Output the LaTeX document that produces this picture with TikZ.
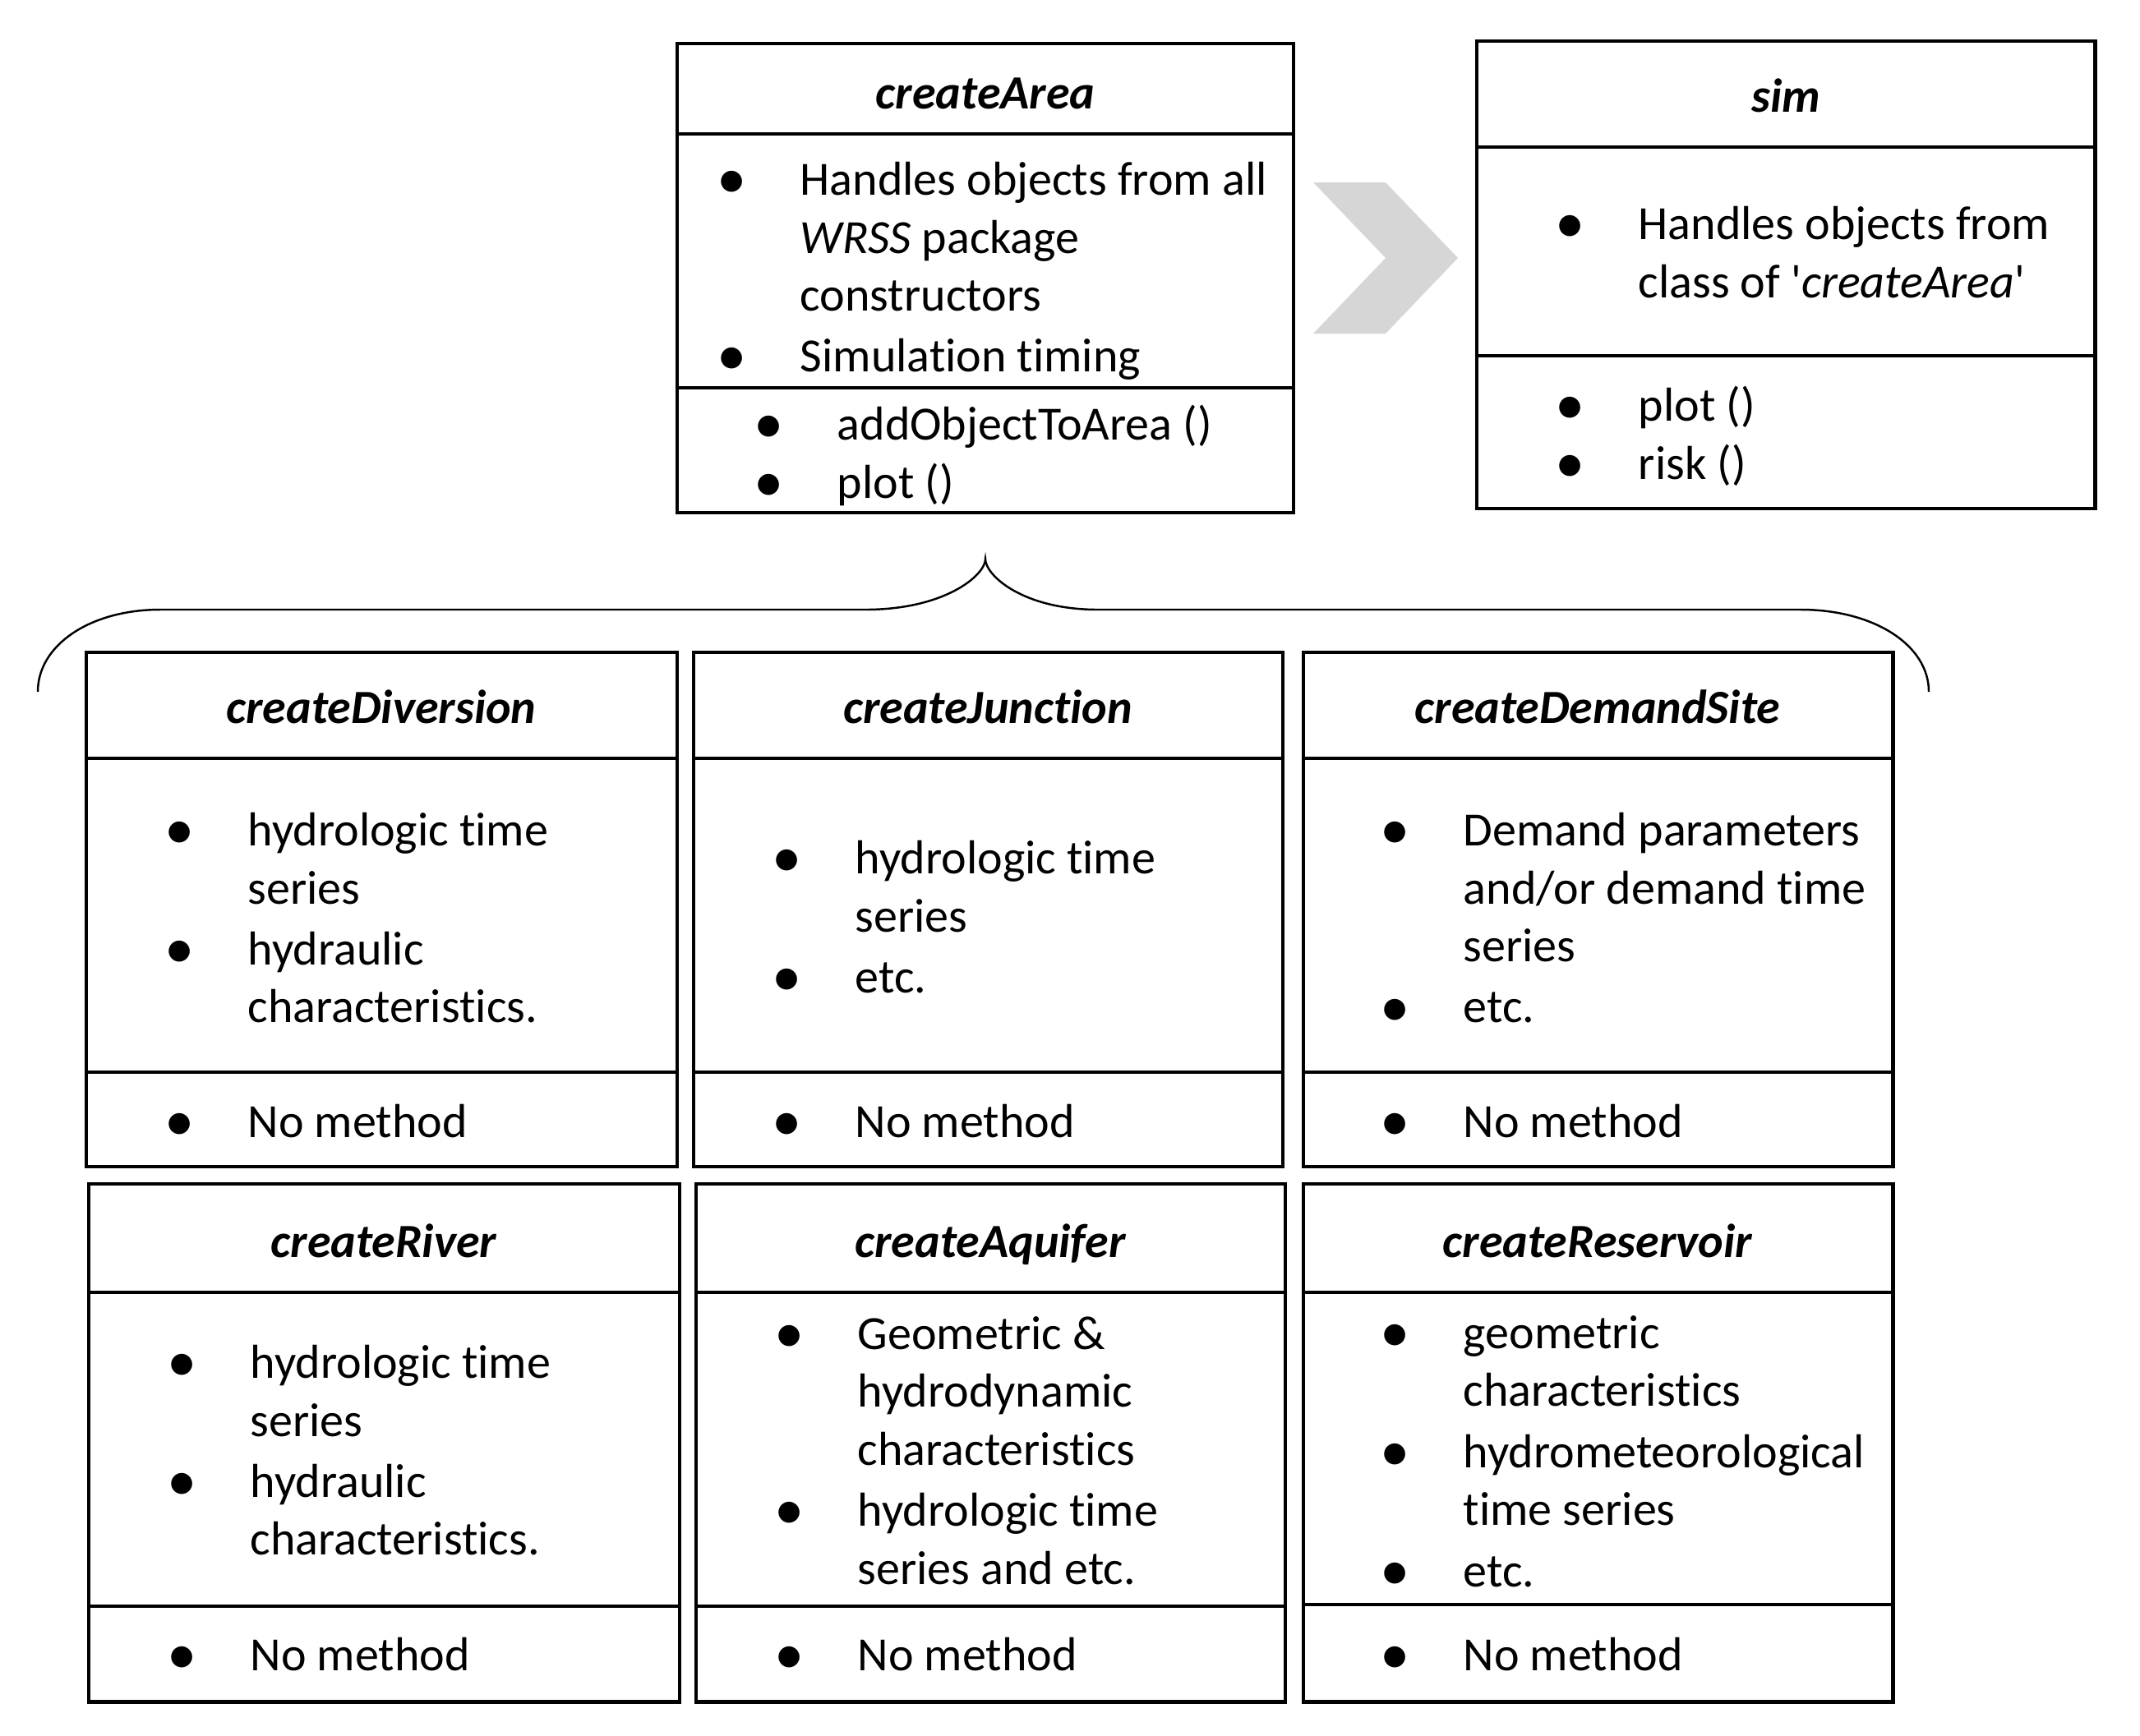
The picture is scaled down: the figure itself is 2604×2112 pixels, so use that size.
\documentclass[tikz,border=0pt]{standalone}
\usepackage{fontspec}
\setmainfont{Carlito}[Ligatures={NoCommon}]
\usetikzlibrary{calc}
\tikzset{
  frame/.style={line width=1.4pt},
  brace/.style={line width=0.7pt},
  ttl/.style={font=\fontsize{16.5}{20.1}\selectfont\bfseries\itshape, inner sep=0pt, text height=12pt, text depth=4pt},
  items/.style={font=\fontsize{16.5}{20.1}\selectfont, anchor=west, inner sep=0pt},
}
\definecolor{chev}{RGB}{214,214,214}
% bullet list with a fixed hanging indent
\newenvironment{blist}{\begin{tabular}{@{}c@{\hspace{0.83cm}}l@{}}}{\end{tabular}}
\newcommand{\bt}{\makebox[0pt]{\raisebox{-0.07em}{\scalebox{1.25}{\textbullet}}}}

\begin{document}
\begin{tikzpicture}[x=0.01cm, y=-0.01cm]
  \useasboundingbox (0,0) rectangle (2604,2112);

  % createArea
  \draw[frame] (824,53) rectangle (1574,624);
  \draw[frame] (824,163) -- (1574,163);
  \draw[frame] (824,472) -- (1574,472);
  \node[ttl] (area) at (1199,118) {createArea};
  \node[items] (area-a) at (890,331) {\begin{blist}
    \bt & Handles objects from all\\
        & \textit{WRSS} package\\
        & constructors\\[1pt]
    \bt & Simulation timing
  \end{blist}};
  \node[items] (area-m) at (935,557) {\begin{blist}
    \bt & addObjectToArea ()\\
    \bt & plot ()
  \end{blist}};

  % chevron between the two classes
  \fill[chev] (1598,222) -- (1686,222) -- (1774,314) -- (1686,406) -- (1598,406) -- (1686,314) -- cycle;

  % sim
  \draw[frame] (1797,50) rectangle (2549,619);
  \draw[frame] (1797,179) -- (2549,179);
  \draw[frame] (1797,433) -- (2549,433);
  \node[ttl] (sim) at (2173,122) {sim};
  \node[items] (sim-a) at (1910,313) {\begin{blist}
    \bt & Handles objects from\\
        & class of \textquotesingle\textit{createArea}\textquotesingle
  \end{blist}};
  \node[items] (sim-m) at (1910,534) {\begin{blist}
    \bt & plot ()\\
    \bt & risk ()
  \end{blist}};

  % brace from createArea over the constructors
  \coordinate (tip) at ($(area-m.south -| area)+(0,52)$);
  \draw[brace] (46,842) .. controls (46,785) and (110,742) .. (195,742)
    -- (1053,742) .. controls (1150,742) and (tip |- 0,700) .. (tip)
    .. controls (tip |- 0,700) and (1244,742) .. (1336,742)
    -- (2191,742) .. controls (2280,742) and (2347,785) .. (2347,842);

  % first row
  \draw[frame] (105,794) rectangle (824,1420);
  \draw[frame] (105,923) -- (824,923);
  \draw[frame] (105,1305) -- (824,1305);
  \node[ttl] (div) at (464,866) {createDiversion};
  \node[items] (div-a) at (218,1123) {\begin{blist}
    \bt & hydrologic time\\
        & series\\[1pt]
    \bt & hydraulic\\
        & characteristics.
  \end{blist}};
  \node[items] (div-m) at (218,1370) {\begin{blist}\bt & No method\end{blist}};

  \draw[frame] (844,794) rectangle (1561,1420);
  \draw[frame] (844,923) -- (1561,923);
  \draw[frame] (844,1305) -- (1561,1305);
  \node[ttl] (jun) at (1202,866) {createJunction};
  \node[items] (jun-a) at (957,1122) {\begin{blist}
    \bt & hydrologic time\\
        & series\\[1pt]
    \bt & etc.
  \end{blist}};
  \node[items] (jun-m) at (957,1370) {\begin{blist}\bt & No method\end{blist}};

  \draw[frame] (1586,794) rectangle (2303,1420);
  \draw[frame] (1586,923) -- (2303,923);
  \draw[frame] (1586,1305) -- (2303,1305);
  \node[ttl] (dem) at (1944,866) {createDemandSite};
  \node[items] (dem-a) at (1697,1123) {\begin{blist}
    \bt & Demand parameters\\
        & and/or demand time\\
        & series\\[1pt]
    \bt & etc.
  \end{blist}};
  \node[items] (dem-m) at (1697,1370) {\begin{blist}\bt & No method\end{blist}};

  % second row
  \draw[frame] (108,1441) rectangle (827,2071);
  \draw[frame] (108,1573) -- (827,1573);
  \draw[frame] (108,1955) -- (827,1955);
  \node[ttl] (riv) at (467,1516) {createRiver};
  \node[items] (riv-a) at (221,1771) {\begin{blist}
    \bt & hydrologic time\\
        & series\\[1pt]
    \bt & hydraulic\\
        & characteristics.
  \end{blist}};
  \node[items] (riv-m) at (221,2019) {\begin{blist}\bt & No method\end{blist}};

  \draw[frame] (847,1441) rectangle (1564,2071);
  \draw[frame] (847,1573) -- (1564,1573);
  \draw[frame] (847,1955) -- (1564,1955);
  \node[ttl] (aqu) at (1205,1516) {createAquifer};
  \node[items] (aqu-a) at (960,1771) {\begin{blist}
    \bt & Geometric \&\\
        & hydrodynamic\\
        & characteristics\\[1pt]
    \bt & hydrologic time\\
        & series and etc.
  \end{blist}};
  \node[items] (aqu-m) at (960,2019) {\begin{blist}\bt & No method\end{blist}};

  \draw[frame] (1586,1441) rectangle (2303,2071);
  \draw[frame] (1586,1573) -- (2303,1573);
  \draw[frame] (1586,1953) -- (2303,1953);
  \node[ttl] (res) at (1944,1516) {createReservoir};
  \node[items] (res-a) at (1697,1772) {\begin{blist}
    \bt & geometric\\
        & characteristics\\[1pt]
    \bt & hydrometeorological\\
        & time series\\[1pt]
    \bt & etc.
  \end{blist}};
  \node[items] (res-m) at (1697,2019) {\begin{blist}\bt & No method\end{blist}};
\end{tikzpicture}
\end{document}
